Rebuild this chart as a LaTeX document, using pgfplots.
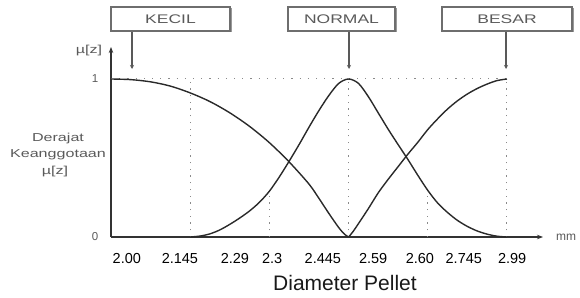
\documentclass[border=0pt]{standalone}
\usepackage{pgfplots}
\pgfplotsset{compat=1.18}
\usepackage{graphicx}
\usepackage{fontspec}
\setmainfont{Liberation Sans}
\usetikzlibrary{arrows.meta}
\definecolor{axgray}{HTML}{333333}
\definecolor{curvec}{HTML}{2A2A2A}
\definecolor{dotc}{HTML}{8A8A8A}
\definecolor{boxc}{HTML}{6E6E6E}
\definecolor{txtgray}{HTML}{5A5A5A}
\newcommand{\wide}[1]{\scalebox{1.4}[1]{#1}}
\begin{document}
\begin{tikzpicture}[x=1pt,y=1pt]
\useasboundingbox (0,0) rectangle (580,297);
\begin{axis}[
  at={(111pt,60pt)}, anchor=south west,
  scale only axis, width=432pt, height=190pt,
  xmin=0, xmax=10.91, ymin=0, ymax=1.2025,
  axis lines=left,
  axis line style={draw=axgray, line width=1.2pt, -{Stealth[length=6pt,width=4.5pt]}},
  xtick={0.40,1.74,3.13,4.07,5.35,6.62,7.80,8.91,10.13},
  xticklabels={2.00,2.145,2.29,2.3,2.445,2.59,2.60,2.745,2.99},
  ytick={0,1},
  yticklabels={0,1},
  major tick length=0pt,
  xticklabel style={font=\fontsize{14.5}{14.5}\selectfont, text=black, anchor=center, inner sep=0pt, yshift=-22pt},
  yticklabel style={font=\fontsize{11.5}{12}\selectfont, text=txtgray, anchor=center, inner sep=0pt, xshift=-16pt},
  clip=false,
]
% dotted guide lines
\addplot[dotc, line width=1pt, dash pattern=on 1.2pt off 7pt] coordinates {(0,1) (10,1)};
\addplot[dotc, line width=1pt, dash pattern=on 1.2pt off 5.5pt] coordinates {(2,0) (2,1)};
\addplot[dotc, line width=1pt, dash pattern=on 1.2pt off 5.5pt] coordinates {(6,0) (6,1)};
\addplot[dotc, line width=1pt, dash pattern=on 1.2pt off 5.5pt] coordinates {(10,0) (10,1)};
\addplot[dotc, line width=1pt, dash pattern=on 1.2pt off 5.5pt] coordinates {(4,0) (4,0.29)};
\addplot[dotc, line width=1pt, dash pattern=on 1.2pt off 5.5pt] coordinates {(8,0) (8,0.295)};
% KECIL
\addplot[curvec, line width=1.4pt, smooth] coordinates {
 (0,1) (0.5,0.996) (1,0.982) (1.5,0.955) (2,0.912) (2.5,0.857) (3,0.786) (3.5,0.700)
 (4,0.597) (4.5,0.475) (5,0.335) (5.25,0.245) (5.5,0.15) (5.75,0.06) (5.9,0.017) (6,0)};
% NORMAL
\addplot[curvec, line width=1.4pt, smooth] coordinates {
 (2,0) (2.25,0.006) (2.5,0.02) (2.75,0.045) (3,0.08) (3.25,0.12) (3.5,0.165) (3.75,0.22)
 (4,0.29) (4.25,0.38) (4.5,0.48) (4.75,0.585) (5,0.695) (5.25,0.80) (5.5,0.895) (5.75,0.972) (6,1)
 (6.25,0.972) (6.5,0.888) (6.75,0.785) (7,0.682) (7.25,0.585) (7.5,0.49) (7.75,0.39) (8,0.295)
 (8.25,0.215) (8.5,0.155) (8.75,0.105) (9,0.067) (9.25,0.038) (9.5,0.018) (9.75,0.005) (10,0)};
% BESAR
\addplot[curvec, line width=1.4pt, smooth] coordinates {
 (6,0) (6.1,0.03) (6.25,0.085) (6.5,0.18) (6.75,0.28) (7,0.365) (7.25,0.445) (7.5,0.525) (7.75,0.60)
 (8,0.68) (8.25,0.748) (8.5,0.81) (8.75,0.862) (9,0.905) (9.25,0.94) (9.5,0.968) (9.75,0.99) (10,1)};
\end{axis}
% labels
\node[font=\fontsize{21}{21}\selectfont, text=black!90] at (345,14) {Diameter Pellet};
\node[font=\fontsize{12}{12}\selectfont, text=txtgray, anchor=west, inner sep=0pt] at (556,60) {mm};
\node[font=\fontsize{11.5}{12}\selectfont, text=txtgray] at (89,246) {\wide{µ[z]}};
\node[font=\fontsize{11.5}{12}\selectfont, text=txtgray] at (58,158) {\wide{Derajat}};
\node[font=\fontsize{11.5}{12}\selectfont, text=txtgray] at (58,142) {\wide{Keanggotaan}};
\node[font=\fontsize{11.5}{12}\selectfont, text=txtgray] at (55,125) {\wide{µ[z]}};
% boxes
\foreach \cx/\w/\ax/\lab in {170.5/119/132/KECIL, 341.5/107/349/NORMAL, 507/130/506/BESAR}{
  \fill[black!40] (\cx-\w/2+1.5,264.5) rectangle (\cx+\w/2+1.5,288.5);
  \draw[boxc, line width=1.3pt, fill=white] (\cx-\w/2,266) rectangle (\cx+\w/2,290);
  \node[font=\fontsize{12.5}{13}\selectfont, text=txtgray] at (\cx,278) {\wide{\lab}};
  \draw[black!65, line width=1.5pt, -{Stealth[length=4pt,width=4pt]}] (\ax,265) -- (\ax,228);
}
\end{tikzpicture}
\end{document}
